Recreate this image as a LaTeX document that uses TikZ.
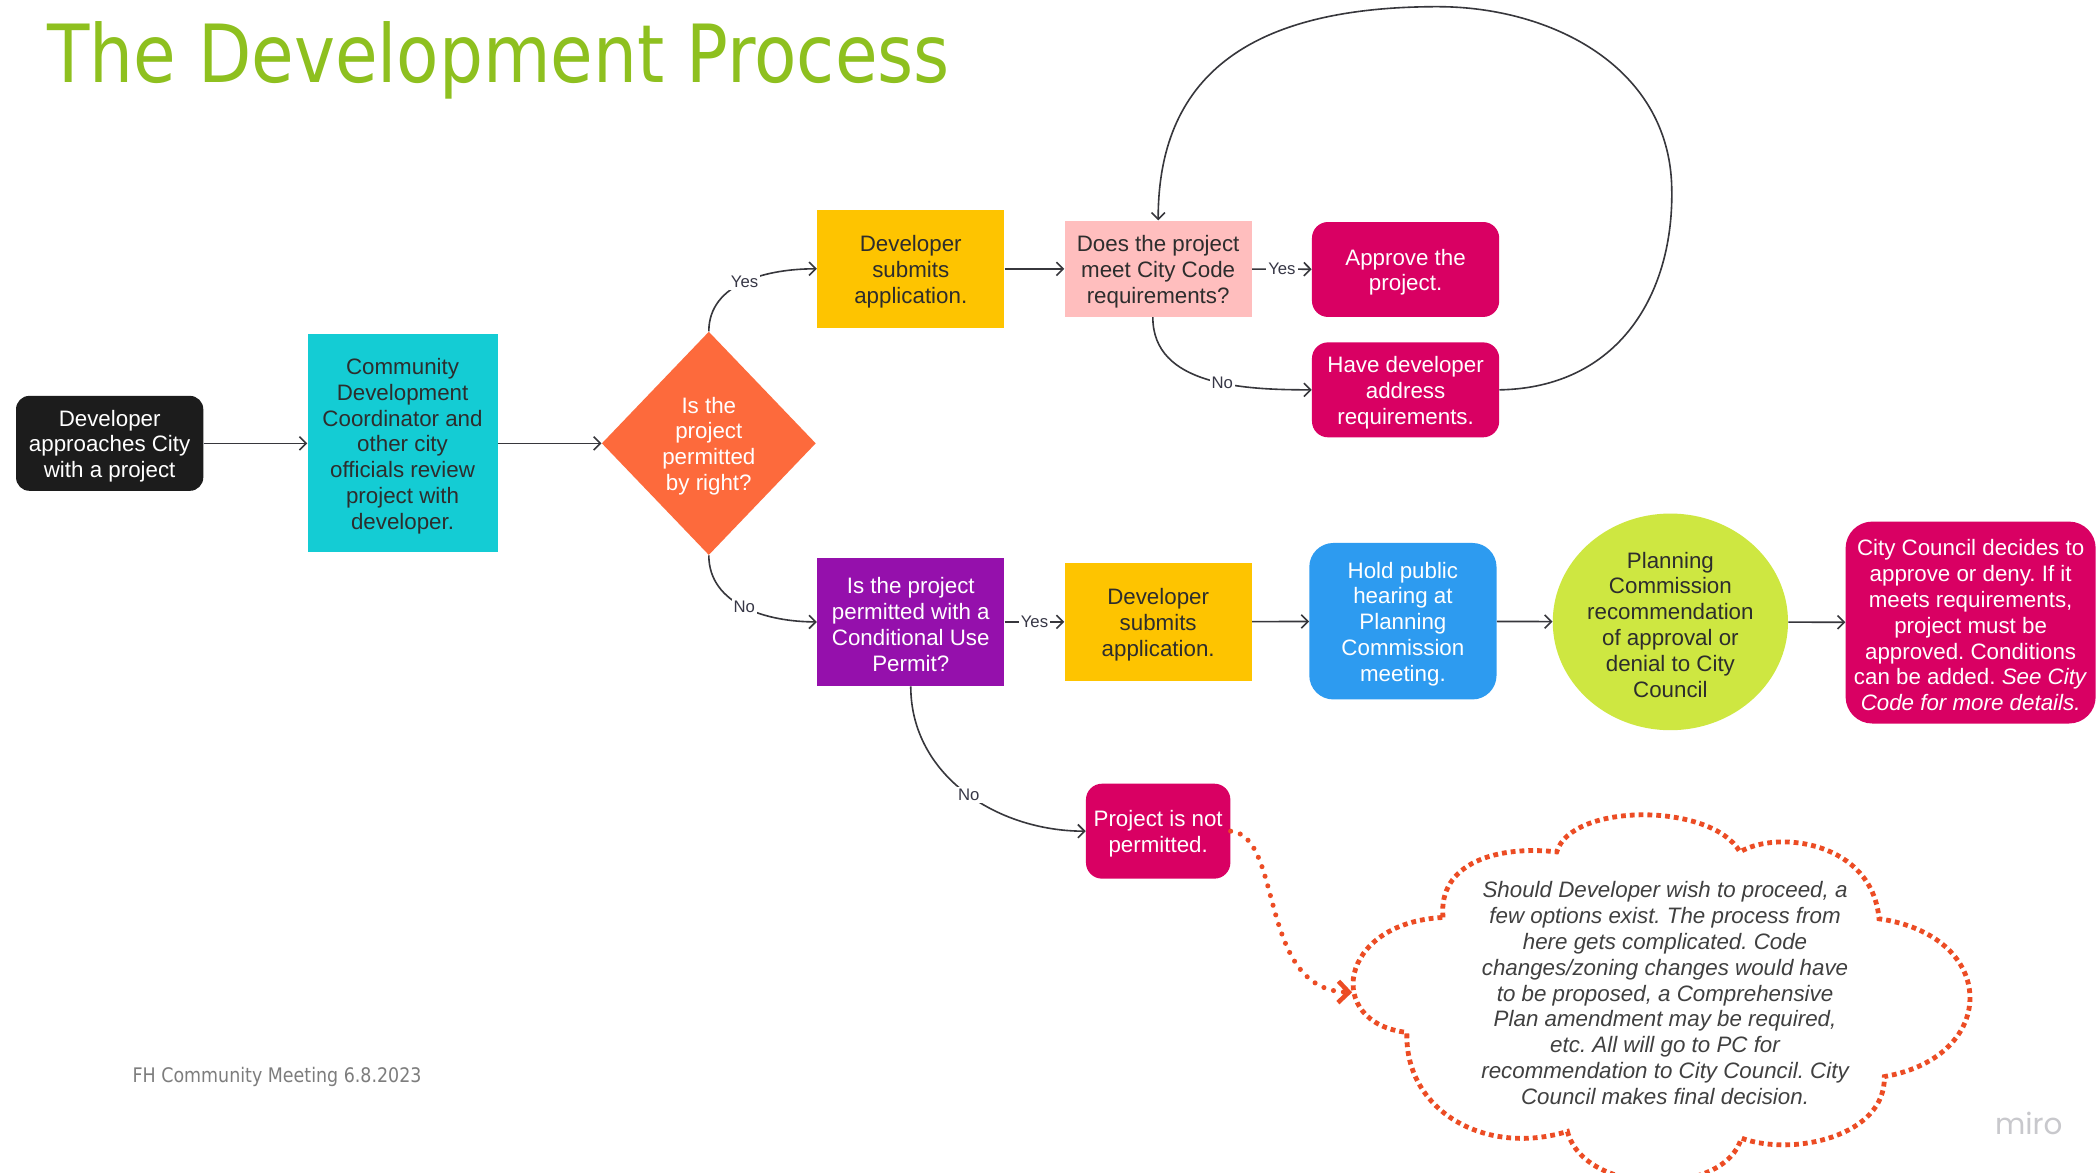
\documentclass[tikz,border=0pt]{standalone}
\usepackage{graphicx}
\usepackage{fontspec}
\setmainfont{Liberation Sans}
\newfontfamily\tahomalike{DejaVu Sans}
\newfontfamily\mirofont{Poppins}
\usetikzlibrary{shapes.geometric,arrows.meta}
\frenchspacing
\definecolor{titlegreen}{RGB}{142,192,31}
\definecolor{footgray}{RGB}{125,125,125}
\definecolor{mirogray}{RGB}{200,200,204}
\definecolor{cblack}{RGB}{28,28,28}
\definecolor{ccyan}{RGB}{20,204,212}
\definecolor{corange}{RGB}{253,106,60}
\definecolor{cyellow}{RGB}{254,196,0}
\definecolor{cpink}{RGB}{255,190,190}
\definecolor{cmagenta}{RGB}{217,0,99}
\definecolor{cpurple}{RGB}{149,16,172}
\definecolor{cblue}{RGB}{45,155,240}
\definecolor{cgreen}{RGB}{206,231,65}
\definecolor{darktext}{RGB}{45,45,45}
\definecolor{linegray}{RGB}{55,55,60}
\definecolor{lblgray}{RGB}{55,55,70}
\definecolor{cloudred}{RGB}{236,76,36}
\definecolor{cloudtext}{RGB}{64,64,64}
\newcommand{\tstrut}{\rule{0pt}{16.2pt}}
\tikzset{
  basebox/.style={draw=none, inner sep=0pt, align=center, font=\fontsize{16.7}{19.3}\selectfont},
  sqbox/.style={basebox, rectangle},
  rndbox/.style={basebox, rectangle, rounded corners=#1},
  rndbox/.default=12pt,
  conn/.style={draw=linegray, line width=1.2pt, -{Straight Barb[length=5pt,width=10pt]}},
  lbl/.style={fill=white, inner sep=1.5pt, text=lblgray, font=\fontsize{12.5}{14}\selectfont},
  dotc/.style={draw=cloudred, line width=3.8pt, line cap=round, dash pattern=on 0pt off 7.5pt,
    -{Straight Barb[length=8pt,width=16pt,line width=3.4pt]}},
  cloudline/.style={draw=cloudred, line width=3.6pt, dash pattern=on 3.6pt off 3pt},
}
\begin{document}
\begin{tikzpicture}[x=1pt,y=-1pt]
\useasboundingbox (0,0) rectangle (1568,877);
\fill[white] (0,0) rectangle (1568,877);

% title and footer
\node[anchor=base west, inner sep=0pt, text=titlegreen] (title) at (35,62)
  {\scalebox{0.864}[1]{\tahomalike\fontsize{60}{60}\selectfont The Development Process}};
\node[anchor=base west, inner sep=0pt, text=footgray] (footer) at (99,809.5)
  {\scalebox{0.87}[1]{\tahomalike\fontsize{15}{15}\selectfont FH Community Meeting 6.8.2023}};
\node[anchor=base, inner sep=0pt, text=mirogray] (miro) at (1517,848)
  {\mirofont\fontsize{22}{22}\selectfont miro};

% nodes
\node[rndbox=10pt, fill=cblack, text=white, minimum width=140pt, minimum height=71pt] (start) at (82,331.5)
  {\tstrut Developer\\approaches City\\with a project};
\node[sqbox, fill=ccyan, text=darktext, minimum width=142pt, minimum height=163pt] (cdc) at (301,331.5)
  {\tstrut Community\\Development\\Coordinator and\\other city\\officials review\\project with\\developer.};
\node[basebox, diamond, fill=corange, text=white, minimum width=160pt, minimum height=167pt] (dia) at (530,331.5)
  {\tstrut Is the\\project\\permitted\\by right?};
\node[sqbox, fill=cyellow, text=darktext, minimum width=140pt, minimum height=88pt] (sub1) at (681,201)
  {\tstrut Developer\\submits\\application.};
\node[sqbox, fill=cpink, text=darktext, minimum width=140pt, minimum height=72pt] (meet) at (866,201)
  {\tstrut Does the project\\meet City Code\\requirements?};
\node[rndbox, fill=cmagenta, text=white, minimum width=140pt, minimum height=71pt] (appr) at (1051,201.5)
  {\tstrut Approve the\\project.};
\node[rndbox, fill=cmagenta, text=white, minimum width=140pt, minimum height=71pt] (addr) at (1051,291.5)
  {\tstrut Have developer\\address\\requirements.};
\node[sqbox, fill=cpurple, text=white, minimum width=140pt, minimum height=96pt] (cup) at (681,465)
  {\tstrut Is the project\\permitted with a\\Conditional Use\\Permit?};
\node[sqbox, fill=cyellow, text=darktext, minimum width=140pt, minimum height=88pt] (sub2) at (866,465)
  {\tstrut Developer\\submits\\application.};
\node[rndbox=18pt, fill=cblue, text=white, minimum width=140pt, minimum height=117pt] (hear) at (1049,464.5)
  {\tstrut Hold public\\hearing at\\Planning\\Commission\\meeting.};
\node[basebox, ellipse, fill=cgreen, text=darktext, minimum width=174pt, minimum height=162pt] (pc) at (1249,465)
  {\tstrut Planning\\Commission\\recommendation\\of approval or\\denial to City\\Council};
\node[rndbox=20pt, fill=cmagenta, text=white, minimum width=187pt, minimum height=151pt] (cc) at (1473.5,465.5)
  {\tstrut City Council decides to\\approve or deny. If it\\meets requirements,\\project must be\\approved. Conditions\\can be added. \textit{See City}\\\textit{Code for more details.}};
\node[rndbox, fill=cmagenta, text=white, minimum width=108pt, minimum height=71pt] (notp) at (866,621.5)
  {\tstrut Project is not\\permitted.};

% cloud
\draw[cloudline] (1079,686) .. controls (1075,645) and (1120,632) .. (1164,637)
  .. controls (1175,600) and (1280,600) .. (1301,637)
  .. controls (1330,620) and (1400,630) .. (1405,687)
  .. controls (1495,700) and (1495,790) .. (1409,805)
  .. controls (1410,850) and (1340,865) .. (1302,851)
  .. controls (1290,895) and (1185,895) .. (1172,846)
  .. controls (1110,865) and (1050,830) .. (1052,772)
  .. controls (990,765) and (1000,690) .. (1079,686);
\node[basebox, text=cloudtext, font=\fontsize{16.7}{19.4}\selectfont\itshape] (cloudtxt) at (1245,740.5)
  {\tstrut Should Developer wish to proceed, a\\few options exist. The process from\\here gets complicated. Code\\changes/zoning changes would have\\to be proposed, a Comprehensive\\Plan amendment may be required,\\etc. All will go to PC for\\recommendation to City Council. City\\Council makes final decision.};
\coordinate (cloudin) at (1011,742);

% connectors
\draw[conn] (start) -- (cdc);
\draw[conn] (cdc.east) -- (dia.west);
\draw[conn] (dia.north) to[out=90,in=180] node[lbl]{Yes} (sub1.west);
\draw[conn] (dia.south) to[out=270,in=180] node[lbl]{No} (cup.west);
\draw[conn] (sub1) -- (meet);
\draw[conn] (meet) -- node[lbl]{Yes} (appr);
\draw[conn] ([xshift=-4pt]meet.south) to[out=270,in=180] node[lbl,pos=0.58]{No} (addr.west);
\draw[conn] (addr.east) .. controls (1210,290) and (1252,220) .. (1250,140)
  .. controls (1248,50) and (1160,5) .. (1075,5)
  .. controls (930,5) and (866,60) .. (meet.north);
\draw[conn] (cup) -- node[lbl]{Yes} (sub2);
\draw[conn] (sub2) -- (hear);
\draw[conn] (hear) -- (pc);
\draw[conn] (pc) -- (cc);
\draw[conn] (cup.south) to[out=270,in=180] node[lbl,pos=0.52]{No} (notp.west);
\draw[dotc] (notp.east) .. controls (960,625) and (940,740) .. (cloudin);
\end{tikzpicture}
\end{document}
